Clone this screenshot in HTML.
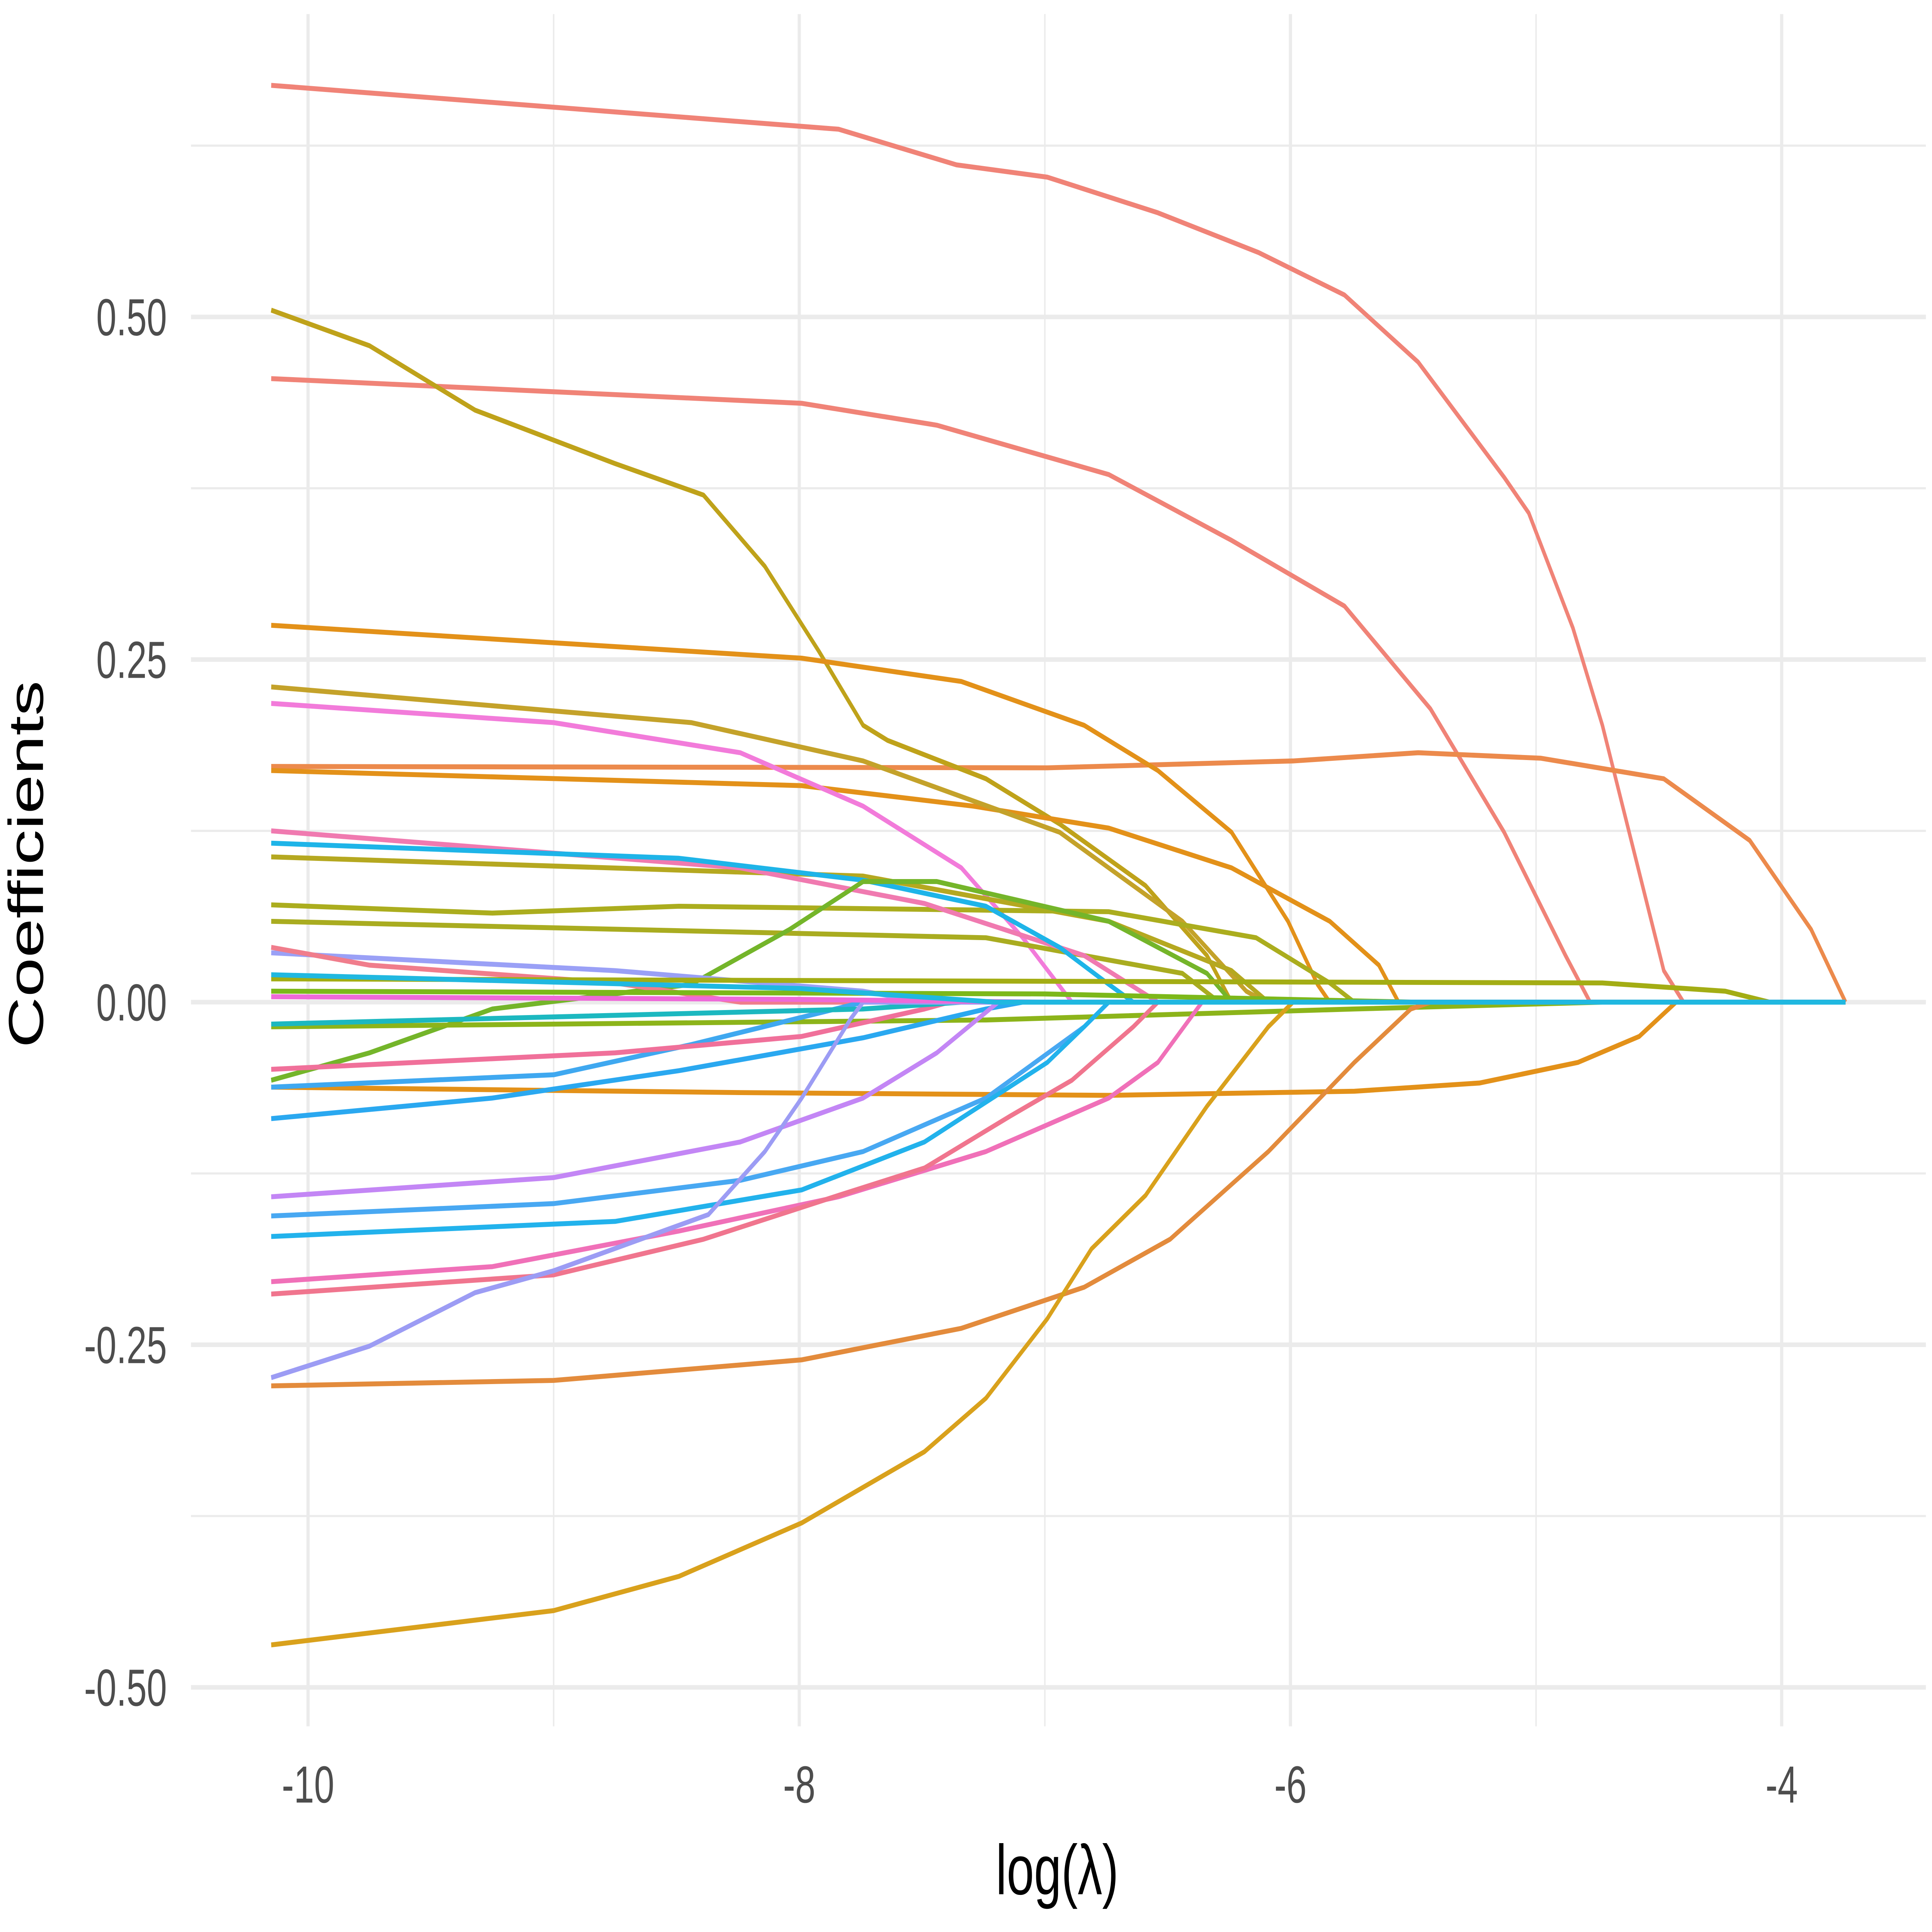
<!DOCTYPE html>
<html><head><meta charset="utf-8"><style>
html,body{margin:0;padding:0;background:#fff;overflow:hidden;width:100%;height:100%;}
svg{display:block;width:100vw;height:100vh;font-family:"Liberation Sans",Arial,sans-serif;}
</style></head><body>
<svg id="chart" viewBox="0 0 7871 5477" preserveAspectRatio="none" xmlns="http://www.w3.org/2000/svg">
<rect width="7871" height="5477" fill="#fff"/>
<g id="grid"></g>
<g id="lines"></g>
<g id="axes"></g>
<text x="4307" y="5370" text-anchor="middle" font-size="200" fill="#000">log(λ)</text>
<text transform="translate(175,2450) rotate(-90)" text-anchor="middle" font-size="200" fill="#000">Coefficients</text>
</svg>
<script>
const xTicks = [-10, -8, -6, -4];
const xTickLabels = ["-10", "-8", "-6", "-4"];
const xMinor = [-9, -7, -5];
const yTicks = [0.5, 0.25, 0, -0.25, -0.5];
const yTickLabels = ["0.50", "0.25", "0.00", "-0.25", "-0.50"];
const yMinor = [0.625, 0.375, 0.125, -0.125, -0.375];
const END = -3.74;
const seriesColors = ["#F08377","#F08377","#EC8A4C","#BFA21A","#E39119","#E39119","#C4A22A","#F27BDA","#B5A820","#ABAD1E","#A9AC20","#F07AB0","#1EB4E8","#74B52A","#9AA0F6","#F07D8C","#E39119","#8CB41A","#A3AD14","#3FA8F0","#2AA8F0","#F0709A","#1CB8C0","#C386F5","#48A8F2","#22B2EC","#F070B8","#F0758E","#9C9CF4","#E38B3C","#D9A11C","#7CB81A","#EE6AD8","#20B8E0"];
const seriesX = [
[-10.15,-7.84,-7.36,-6.99,-6.54,-6.13,-5.78,-5.48,-5.13,-5.03,-4.85,-4.73,-4.48,-4.40],
[-10.15,-7.99,-7.44,-6.74,-6.24,-5.78,-5.43,-5.13,-4.88,-4.78],
[-10.15,-6.99,-5.99,-5.48,-4.98,-4.48,-4.13,-3.88,-3.74],
[-10.15,-9.75,-9.32,-8.75,-8.39,-8.14,-7.92,-7.74,-7.64,-7.24,-6.94,-6.59,-6.34,-6.24],
[-10.15,-7.99,-7.34,-6.84,-6.54,-6.24,-6.01,-5.89,-5.84],
[-10.15,-7.99,-7.29,-6.74,-6.24,-5.84,-5.64,-5.56],
[-10.15,-8.44,-7.74,-6.94,-6.44,-6.18,-6.10],
[-10.15,-9.0,-8.24,-7.74,-7.34,-7.09,-6.89],
[-10.15,-7.74,-6.74,-6.24,-6.09],
[-10.15,-9.25,-8.49,-6.74,-6.14,-5.84,-5.74],
[-10.15,-7.24,-6.44,-6.29],
[-10.15,-8.24,-7.49,-6.84,-6.54],
[-10.15,-8.49,-7.74,-7.24,-6.94,-6.74,-6.64],
[-10.15,-9.75,-9.25,-8.44,-8.04,-7.74,-7.44,-6.74,-6.34,-6.24],
[-10.15,-8.75,-7.74,-7.49],
[-10.15,-9.75,-8.75,-8.24],
[-10.15,-8.24,-6.74,-5.74,-5.23,-4.83,-4.58,-4.43],
[-10.15,-7.24,-5.74,-4.73],
[-10.15,-4.73,-4.23,-4.05],
[-10.15,-9.0,-8.44,-7.74],
[-10.15,-9.25,-8.49,-7.74,-7.24,-7.09],
[-10.15,-8.75,-7.99,-7.49,-7.39],
[-10.15,-7.74,-7.34],
[-10.15,-9.0,-8.24,-7.74,-7.44,-7.19],
[-10.15,-9.0,-8.24,-7.74,-7.24,-6.84,-6.74],
[-10.15,-8.75,-7.99,-7.49,-6.99,-6.84,-6.74],
[-10.15,-9.25,-8.49,-7.84,-7.24,-6.74,-6.54,-6.36],
[-10.15,-9.0,-8.39,-7.84,-7.49,-7.14,-6.89,-6.64,-6.54],
[-10.15,-9.75,-9.32,-9.0,-8.37,-8.14,-7.99,-7.79,-7.74],
[-10.15,-9.0,-7.99,-7.34,-6.84,-6.49,-6.09,-5.74,-5.51,-5.43],
[-10.15,-9.0,-8.49,-7.99,-7.49,-7.24,-6.99,-6.81,-6.59,-6.34,-6.09,-5.99],
[-10.15,-7.0,-5.5],
[-10.15,-8.0,-7.0],
[-10.15,-8.0,-7.2]
];
const seriesY = [
[0.669,0.637,0.611,0.602,0.576,0.547,0.516,0.467,0.383,0.357,0.273,0.202,0.023,0],
[0.455,0.437,0.421,0.385,0.337,0.289,0.214,0.124,0.034,0],
[0.172,0.171,0.176,0.182,0.178,0.163,0.118,0.053,0],
[0.505,0.479,0.432,0.393,0.370,0.318,0.256,0.202,0.191,0.163,0.130,0.085,0.034,0],
[0.275,0.251,0.234,0.202,0.169,0.124,0.059,0.013,0],
[0.169,0.158,0.143,0.127,0.098,0.059,0.027,0],
[0.230,0.204,0.176,0.124,0.059,0.008,0],
[0.218,0.204,0.182,0.143,0.098,0.047,0],
[0.106,0.092,0.059,0.023,0],
[0.071,0.065,0.070,0.066,0.047,0.014,0],
[0.059,0.047,0.021,0],
[0.125,0.098,0.072,0.034,0],
[0.116,0.105,0.089,0.070,0.040,0.013,0],
[-0.057,-0.037,-0.005,0.013,0.053,0.088,0.088,0.059,0.021,0],
[0.036,0.023,0.008,0],
[0.040,0.027,0.014,0],
[-0.062,-0.066,-0.068,-0.065,-0.059,-0.044,-0.025,0],
[-0.018,-0.013,-0.005,0],
[0.017,0.014,0.008,0],
[-0.062,-0.053,-0.031,0],
[-0.085,-0.070,-0.050,-0.026,-0.005,0],
[-0.049,-0.037,-0.025,-0.005,0],
[-0.016,-0.005,0],
[-0.142,-0.128,-0.102,-0.070,-0.037,0],
[-0.156,-0.147,-0.130,-0.109,-0.070,-0.018,0],
[-0.171,-0.160,-0.137,-0.102,-0.044,-0.018,0],
[-0.204,-0.193,-0.167,-0.142,-0.109,-0.070,-0.044,0],
[-0.213,-0.199,-0.173,-0.141,-0.121,-0.083,-0.057,-0.018,0],
[-0.274,-0.251,-0.212,-0.196,-0.155,-0.109,-0.070,-0.012,0],
[-0.280,-0.276,-0.261,-0.238,-0.208,-0.173,-0.109,-0.044,-0.005,0],
[-0.469,-0.444,-0.419,-0.380,-0.328,-0.289,-0.231,-0.180,-0.141,-0.076,-0.018,0],
[0.008,0.006,0],
[0.004,0.002,0],
[0.020,0.010,0]
];
const NS="http://www.w3.org/2000/svg";
function X(v){return 1255+(v+10)*1000.6;}
function Y(v){return 2841-v*3885;}
const PL=778,PR=7846,PT=40,PB=4894;
const grid=document.getElementById('grid');
function ln(g,x1,y1,x2,y2,c,w){const l=document.createElementNS(NS,'line');l.setAttribute('x1',x1);l.setAttribute('y1',y1);l.setAttribute('x2',x2);l.setAttribute('y2',y2);l.setAttribute('stroke',c);l.setAttribute('stroke-width',w);g.appendChild(l);return l;}
yMinor.forEach(v=>{const l=ln(grid,PL,Y(v),PR,Y(v),'#EBEBEB',6);

});
xMinor.forEach(v=>{const l=ln(grid,X(v),PT,X(v),PB,'#EBEBEB',6);

});
yTicks.forEach(v=>{const l=ln(grid,PL,Y(v),PR,Y(v),'#EBEBEB',13);

});
xTicks.forEach(v=>{const l=ln(grid,X(v),PT,X(v),PB,'#EBEBEB',13);

});
const axes=document.getElementById('axes');
yTicks.forEach((v,i)=>{const t=document.createElementNS(NS,'text');t.setAttribute('x',680);t.setAttribute('y',Y(v)+52);t.setAttribute('text-anchor','end');t.setAttribute('font-size','148');t.setAttribute('fill','#4D4D4D');t.textContent=yTickLabels[i];


axes.appendChild(t);});
xTicks.forEach((v,i)=>{const t=document.createElementNS(NS,'text');t.setAttribute('x',X(v));t.setAttribute('y',5110);t.setAttribute('text-anchor','middle');t.setAttribute('font-size','148');t.setAttribute('fill','#4D4D4D');t.textContent=xTickLabels[i];


axes.appendChild(t);});
const lines=document.getElementById('lines');
seriesX.forEach((xs,i)=>{const ys=seriesY[i];let d='';xs.forEach((x,j)=>{d+=(j?'L':'M')+X(x).toFixed(1)+','+Y(ys[j]).toFixed(1);});
if(xs[xs.length-1]<END)d+='L'+X(END).toFixed(1)+','+Y(0).toFixed(1);
const p=document.createElementNS(NS,'path');p.setAttribute('d',d);p.setAttribute('fill','none');p.setAttribute('stroke',seriesColors[i]);p.setAttribute('stroke-width',14);p.setAttribute('stroke-linejoin','round');


lines.appendChild(p);});
</script>
</body></html>
